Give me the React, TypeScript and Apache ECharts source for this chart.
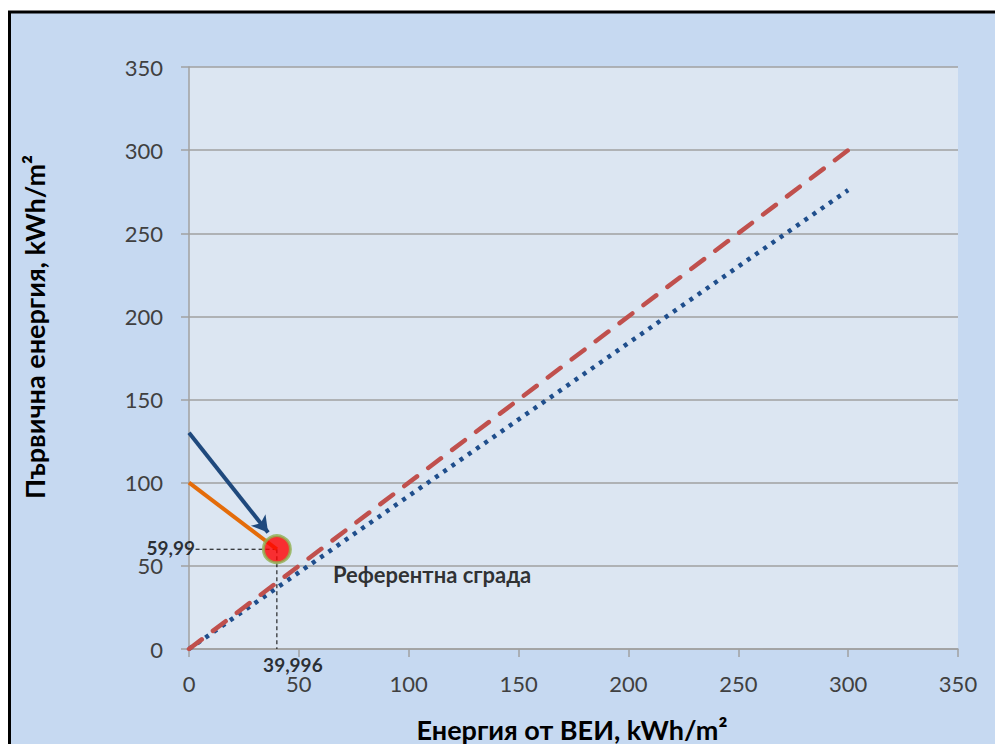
import React, { useEffect, useRef } from "react";
import * as echarts from "echarts";

// ---- data ----
const xTitle = "Енергия от ВЕИ, kWh/m²";
const yTitle = "Първична енергия, kWh/m²";
const axisMin = 0;
const axisMax = 350;
const axisStep = 50;

// reference line (primary = renewable) and renewable-adjusted line
const refLine: number[][] = [[0, 0], [300, 300]];
const renewLine: number[][] = [[0, 0], [300, 276]];
// orange path and blue arrow towards the reference building
const orangeLine: number[][] = [[0, 100], [40, 60]];
const arrowStart: number[] = [0, 130];
const arrowEnd: number[] = [36, 70];
// reference building point
const refBuilding: number[] = [39.996, 59.99];
const refBuildingLabel = "Референтна сграда";
const refBuildingLabelPos: number[] = [65.5, 45];
const guideH: number[][] = [[3, 59.99], [39.996, 59.99]];
const guideV: number[][] = [[39.996, 59.99], [39.996, 0]];
const yValueLabel = "59,99";
const xValueLabel = "39,996";

const FONT = "Lato, 'Open Sans', sans-serif";

export default function App() {
  const ref = useRef<HTMLDivElement>(null);
  useEffect(() => {
    if (!ref.current) return;
    const chart = echarts.init(ref.current, undefined, { renderer: "svg" });
    const axisLabel = { color: "#404040", fontSize: 22, fontFamily: FONT };
    const grayLine = { color: "#a0a0a0", width: 1.5 };
    chart.setOption({
      animation: false,
      backgroundColor: "#ffffff",
      textStyle: { fontFamily: FONT },
      grid: {
        left: 189,
        right: 37,
        top: 67,
        bottom: 95,
        show: true,
        backgroundColor: "#dce6f2",
        borderWidth: 0,
      },
      graphic: [
        {
          type: "rect",
          z: -10,
          shape: { x: 9.5, y: 12, width: 1000, height: 800 },
          style: { fill: "#c6d9f1", stroke: "#000000", lineWidth: 3 },
        },
        {
          type: "text",
          x: 34,
          y: 327,
          rotation: Math.PI / 2,
          style: {
            text: yTitle,
            font: `bold 27px ${FONT}`,
            fill: "#000000",
            align: "center",
            verticalAlign: "middle",
          },
        },
        {
          type: "text",
          x: 572,
          y: 729,
          style: {
            text: xTitle,
            font: `bold 27px ${FONT}`,
            fill: "#000000",
            align: "center",
            verticalAlign: "middle",
          },
        },
      ],
      xAxis: {
        type: "value",
        min: axisMin,
        max: axisMax,
        interval: axisStep,
        axisLine: { show: true, lineStyle: grayLine },
        axisTick: { show: true, length: 8, lineStyle: grayLine },
        splitLine: { show: false },
        axisLabel: { ...axisLabel, margin: 23 },
      },
      yAxis: {
        type: "value",
        min: axisMin,
        max: axisMax,
        interval: axisStep,
        axisLine: { show: true, lineStyle: grayLine },
        axisTick: { show: true, length: 8, lineStyle: grayLine },
        splitLine: { show: true, lineStyle: grayLine },
        axisLabel: { ...axisLabel, margin: 26 },
      },
      series: [
        {
          type: "line",
          data: renewLine,
          symbol: "none",
          lineStyle: { color: "#1f4e8c", width: 4.5, type: [4, 6], cap: "butt" },
          z: 2,
        },
        {
          type: "line",
          data: refLine,
          symbol: "none",
          lineStyle: { color: "#c0504d", width: 4.5, type: [16, 14], cap: "round" },
          z: 3,
        },
        {
          type: "line",
          data: guideH,
          symbol: "none",
          lineStyle: { color: "#000000", width: 1, type: [4, 3] },
          z: 4,
        },
        {
          type: "line",
          data: guideV,
          symbol: "none",
          lineStyle: { color: "#000000", width: 1, type: [4, 3] },
          z: 4,
        },
        {
          type: "line",
          data: orangeLine,
          symbol: "none",
          lineStyle: { color: "#e46c0a", width: 4 },
          z: 5,
          markLine: {
            silent: true,
            symbol: ["none", "arrow"],
            symbolSize: [14, 16],
            label: { show: false },
            lineStyle: { color: "#1f497d", width: 4, type: "solid" },
            data: [[{ coord: arrowStart }, { coord: arrowEnd }]],
          },
        },
        {
          type: "scatter",
          data: [refBuilding],
          symbol: "circle",
          symbolSize: 27,
          itemStyle: { color: "#ff0000", borderColor: "#8fb04f", borderWidth: 3 },
          z: 6,
        },
        {
          type: "scatter",
          symbolSize: 0,
          z: 7,
          label: {
            show: true,
            fontFamily: FONT,
            fontWeight: "bold",
            fontSize: 19,
            color: "#000000",
          },
          data: [
            {
              value: [0, refBuilding[1]],
              label: {
                formatter: yValueLabel,
                position: [6, -2],
                align: "right",
                verticalAlign: "middle",
              },
            },
            {
              value: [refBuilding[0], 0],
              label: {
                formatter: xValueLabel,
                position: [16, 15],
                align: "center",
                verticalAlign: "middle",
              },
            },
            {
              value: refBuildingLabelPos,
              label: {
                formatter: refBuildingLabel,
                fontSize: 22,
                position: [0, 0],
                align: "left",
                verticalAlign: "middle",
              },
            },
          ],
        },
      ],
    });
    return () => chart.dispose();
  }, []);
  return (
    <div
      ref={ref}
      style={{ position: "fixed", left: 0, top: 0, width: 995, height: 744 }}
    />
  );
}
